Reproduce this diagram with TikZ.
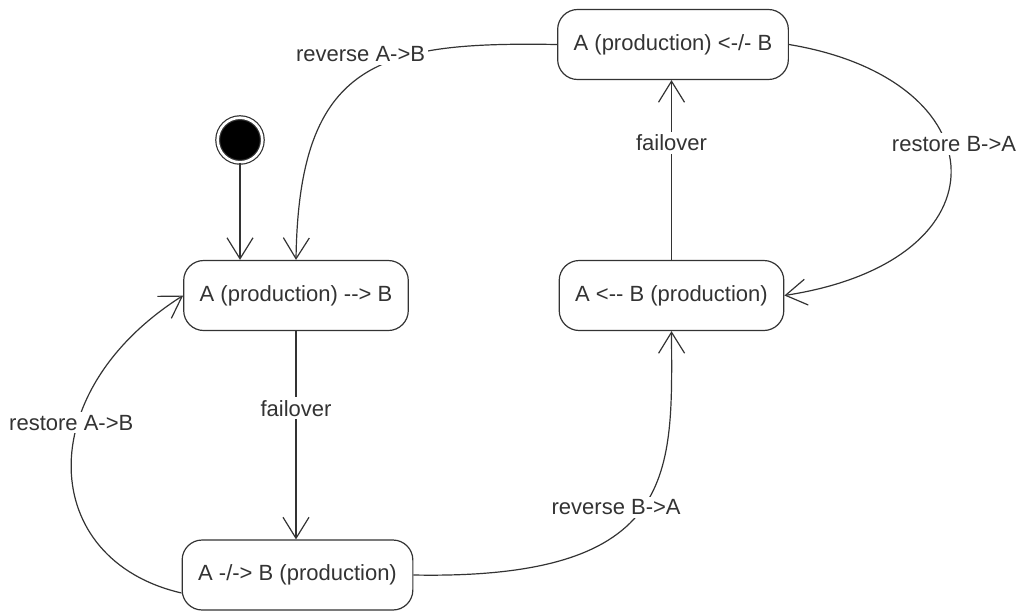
\documentclass[tikz,border=0pt]{standalone}
\usepackage{fontspec}
\setmainfont{Liberation Sans}[Ligatures=TeXOff]
\usepackage{tikz}
\usetikzlibrary{arrows.meta, positioning, calc}

\tikzset{
  txt/.style={font=\fontsize{22}{26}\selectfont, text=black!80},
  state/.style={txt, draw=black!80, line width=1.2pt, rounded corners=20pt,
    minimum height=70pt, inner xsep=16pt},
  initial/.style={circle, fill=black, draw=black!80, line width=1.2pt,
    double=white, double distance=2.6pt, minimum size=44.6pt, inner sep=0pt},
  trans/.style={draw=black!80, line width=1.2pt,
    -{Straight Barb[length=21pt, width=26pt, line width=1.2pt]}},
  lbl/.style={txt, fill=white, inner sep=3pt}
}

\begin{document}
\begin{tikzpicture}[x=1pt, y=-1pt]
  \useasboundingbox (0,0) rectangle (1016,611);

  % states
  \node[initial] (init) at (240,140) {};
  \node[state] (b1) at (296,295.5) {A (production) --> B};
  \node[state] (b2) at (673,44.5) {A (production) <-/- B};
  \node[state] (b3) at (671.5,295.5) {A <-- B (production)};
  \node[state] (b4) at (297.5,575) {A -/-> B (production)};

  % transitions
  \draw[trans] (init) -- (init |- b1.north);
  \draw[trans] (b2.west) .. controls +(-177,-3) and +(3,-200) ..
    node[lbl, pos=0.4, xshift=-29pt, yshift=7pt] {reverse A->B} (b1.north);
  \draw[trans] (b1.south) -- node[lbl, pos=0.37] {failover} (b1.south |- b4.north);
  \draw[trans] ([yshift=-18pt]b4.west) .. controls +(-143,-33) and +(-153,97) ..
    node[lbl, pos=0.6, xshift=-4pt, yshift=10pt] {restore A->B} (b1.west);
  \draw[trans] (b4.east) .. controls +(268,5) and +(0.5,140) ..
    node[lbl, pos=0.5, xshift=-27pt] {reverse B->A} (b3.south);
  \draw[trans] (b3.north) -- node[lbl, pos=0.65] {failover} (b3.north |- b2.south);
  \draw[trans] (b2.east) .. controls +(211,35) and +(227,-35) ..
    node[lbl, pos=0.45, xshift=5pt, yshift=10pt] {restore B->A} (b3.east);
\end{tikzpicture}
\end{document}
